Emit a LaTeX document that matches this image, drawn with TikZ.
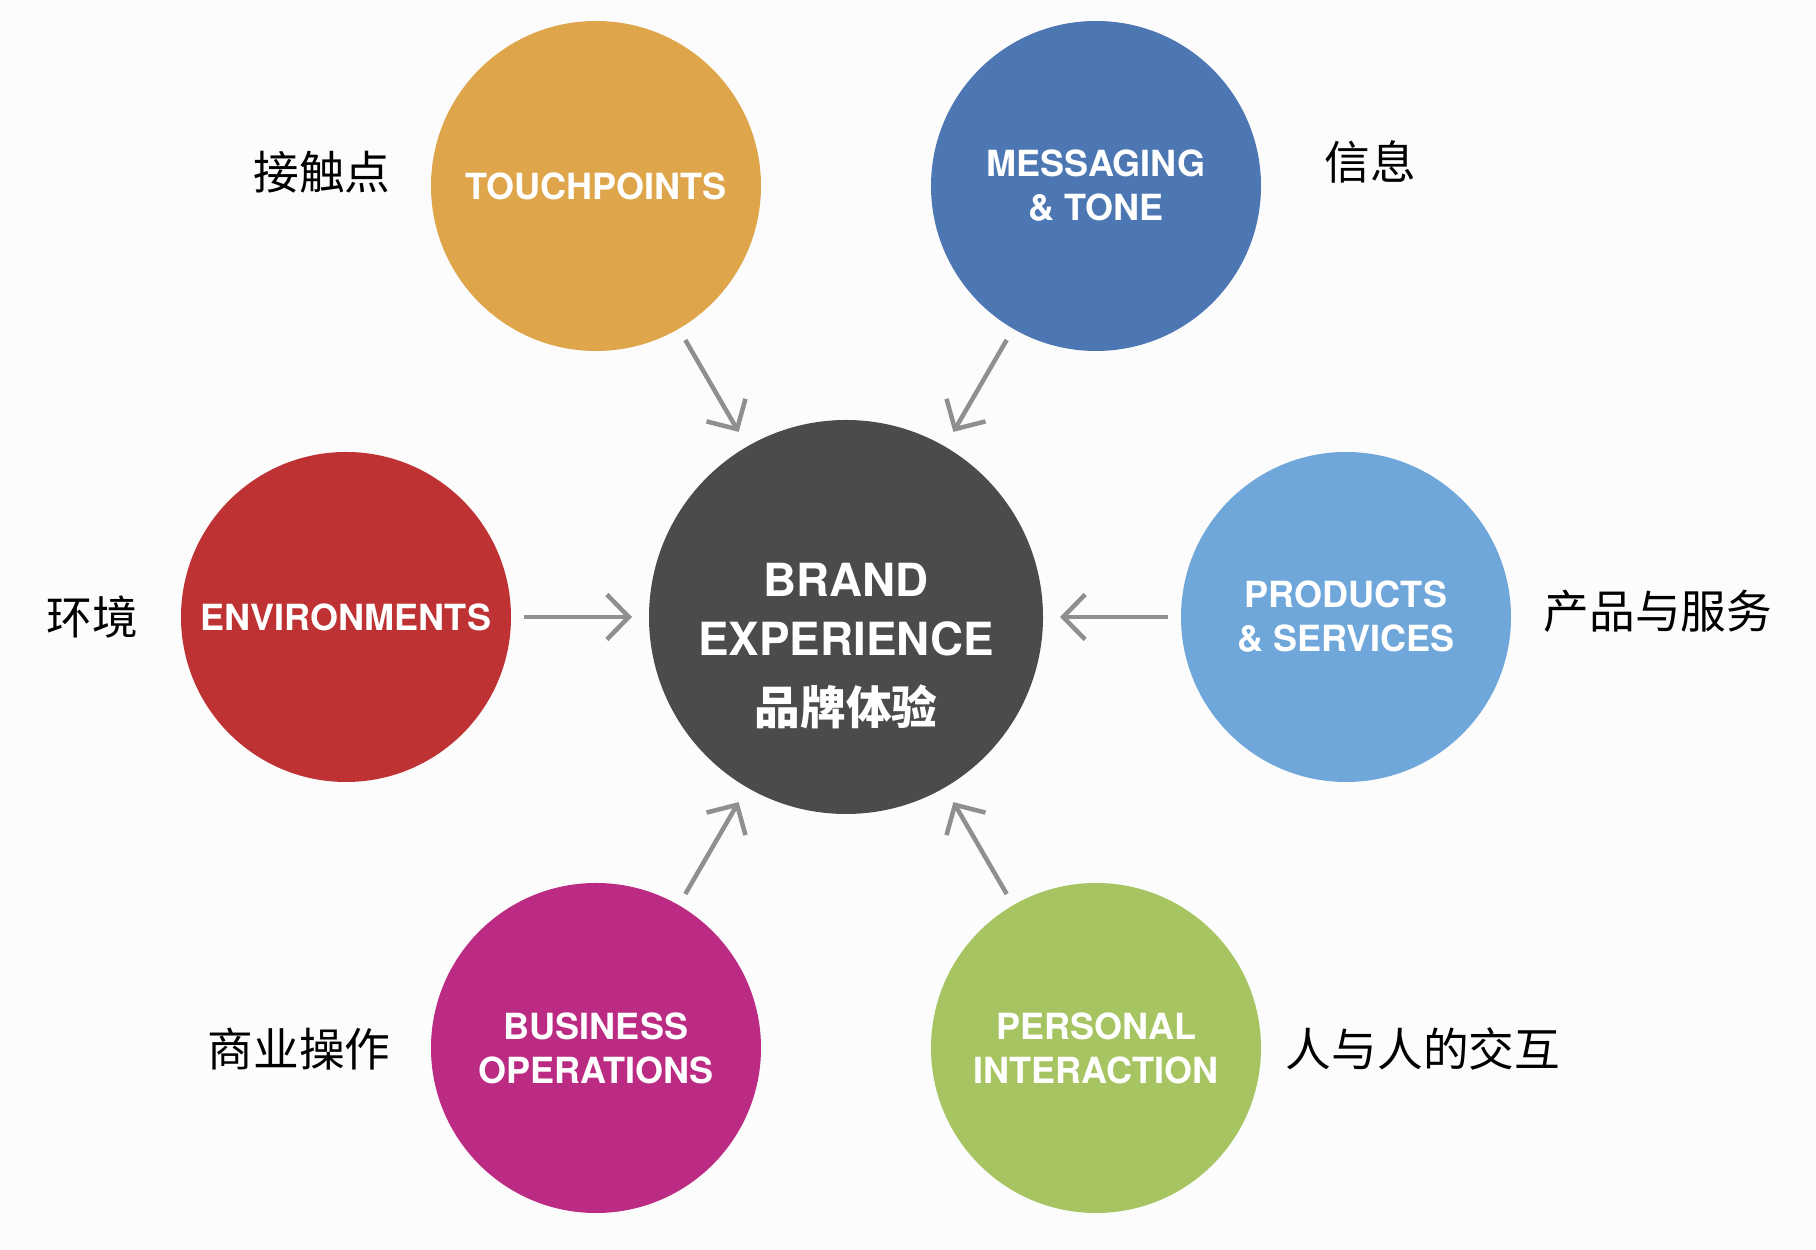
\documentclass[tikz,border=0pt]{standalone}
\usepackage{fontspec}
\setsansfont{TeX Gyre Heros}
\newfontfamily\cjk{Noto Sans CJK SC}
\usetikzlibrary{math,arrows.meta}

\definecolor{bgcol}{HTML}{FCFCFC}
\definecolor{corecol}{HTML}{4B4B4D}
\definecolor{touchcol}{HTML}{DFA54B}
\definecolor{msgcol}{HTML}{4C77B2}
\definecolor{envcol}{HTML}{BF3234}
\definecolor{prodcol}{HTML}{70A7DA}
\definecolor{buscol}{HTML}{BC2B83}
\definecolor{perscol}{HTML}{A7C462}
\definecolor{arrowgray}{HTML}{8F8F8F}

\begin{document}
\begin{tikzpicture}[x=0.2mm,y=0.2mm,
    bubble/.style={circle,minimum size=66mm,inner sep=0pt,outer sep=0pt,text=white,align=center,
      font=\sffamily\bfseries\fontsize{20.5}{25}\selectfont},
    core/.style={circle,minimum size=78.8mm,inner sep=0pt,outer sep=0pt,fill=corecol},
    coretext/.style={text=white,align=center,inner sep=0pt,
      font=\sffamily\bfseries\fontsize{26}{33.6}\selectfont},
    cnlbl/.style={inner sep=0pt,font=\cjk\fontsize{26}{30}\selectfont},
    into/.style={draw=arrowgray,line width=0.9mm,-{Straight Barb[length=4.4mm,width=9mm]},
      shorten <=2.6mm,shorten >=3.4mm}]
      \tikzmath{\cx = 846; \cy = 633; \dx = 250; \dy = 431; \R = 500;}
      \fill[bgcol] (0,0) rectangle (1816,1250);
      \useasboundingbox (0,0) rectangle (1816,1250);
      % centre
      \node[core,label={[coretext,yshift=-5.8mm]center:{BRAND\\EXPERIENCE\\[6pt]{\cjk 品牌体验}}}] (brand) at (\cx,\cy) {};
      % ring of six
      \node[bubble,fill=touchcol] (touch) at (\cx-\dx,\cy+\dy) {TOUCHPOINTS};
      \node[bubble,fill=msgcol] (msg) at (\cx+\dx,\cy+\dy) {MESSAGING\\\& TONE};
      \node[bubble,fill=envcol] (env) at (\cx-\R,\cy) {ENVIRONMENTS};
      \node[bubble,fill=prodcol] (prod) at (\cx+\R,\cy) {PRODUCTS\\\& SERVICES};
      \node[bubble,fill=buscol] (bus) at (\cx-\dx,\cy-\dy) {BUSINESS\\OPERATIONS};
      \node[bubble,fill=perscol] (pers) at (\cx+\dx,\cy-\dy) {PERSONAL\\INTERACTION};
      % chinese labels
      \node[cnlbl] (touchcn) at (322,1078) {接触点};
      \node[cnlbl] (msgcn) at (1370,1088) {信息};
      \node[cnlbl] (envcn) at (92,633) {环境};
      \node[cnlbl] (prodcn) at (1658,639) {产品与服务};
      \node[cnlbl] (buscn) at (299,201) {商业操作};
      \node[cnlbl] (perscn) at (1423,201) {人与人的交互};
      % arrows in
      \draw[into] (touch) -- (brand);
      \draw[into] (msg) -- (brand);
      \draw[into] (env) -- (brand);
      \draw[into] (prod) -- (brand);
      \draw[into] (bus) -- (brand);
      \draw[into] (pers) -- (brand);
    \end{tikzpicture}
\end{document}
